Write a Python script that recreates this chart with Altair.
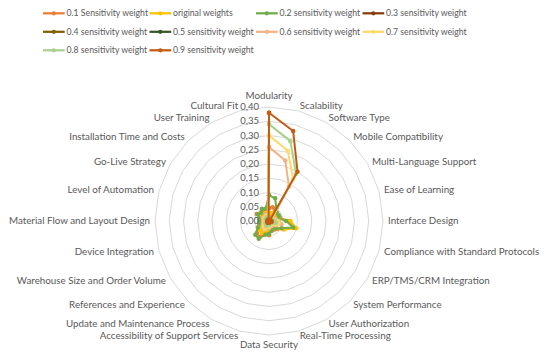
import altair as alt
import pandas as pd

categories = [
    "Modularity", "Scalability", "Software Type", "Mobile Compatibility",
    "Multi-Language Support", "Ease of Learning", "Interface Design",
    "Compliance with Standard Protocols", "ERP/TMS/CRM Integration",
    "System Performance", "User Authorization", "Real-Time Processing",
    "Data Security", "Accessibility of Support Services",
    "Update and Maintenance Process", "References and Experience",
    "Warehouse Size and Order Volume", "Device Integration",
    "Material Flow and Layout Design", "Level of Automation",
    "Go-Live Strategy", "Installation Time and Costs", "User Training",
    "Cultural Fit",
]

series_names = [
    "0.1 Sensitivity weight", "original weights", "0.2 sensitivity weight",
    "0.3 sensitivity weight", "0.4 sensitivity weight", "0.5 sensitivity weight",
    "0.6 sensitivity weight", "0.7 sensitivity weight", "0.8 sensitivity weight",
    "0.9 sensitivity weight",
]
series_colors = [
    "#ED7D31", "#FFC000", "#70AD47", "#843C0C", "#7F6000", "#375623",
    "#F4B183", "#FFD966", "#A9D18E", "#C55A11",
]

w_01 = [0.045, 0.050, 0.040, 0.035, 0.035, 0.040, 0.070, 0.092, 0.055, 0.040, 0.035, 0.035,
        0.050, 0.045, 0.065, 0.060, 0.040, 0.035, 0.030, 0.030, 0.050, 0.040, 0.045, 0.040]
w_orig = [0.030, 0.028, 0.030, 0.025, 0.030, 0.035, 0.075, 0.099, 0.060, 0.035, 0.030, 0.030,
          0.035, 0.035, 0.050, 0.045, 0.035, 0.030, 0.025, 0.025, 0.030, 0.030, 0.030, 0.030]
w_02 = [0.090, 0.083, 0.052, 0.040, 0.040, 0.035, 0.060, 0.088, 0.050, 0.035, 0.030, 0.035,
        0.045, 0.050, 0.072, 0.068, 0.045, 0.035, 0.034, 0.035, 0.045, 0.040, 0.050, 0.045]
w_03 = [0.012, 0.011, 0.010, 0.010, 0.010, 0.011, 0.012, 0.012, 0.011, 0.010, 0.010, 0.010,
        0.011, 0.011, 0.012, 0.012, 0.011, 0.010, 0.010, 0.010, 0.011, 0.010, 0.011, 0.010]
w_04 = [0.011, 0.010, 0.009, 0.009, 0.009, 0.010, 0.011, 0.011, 0.010, 0.009, 0.009, 0.009,
        0.010, 0.010, 0.011, 0.011, 0.010, 0.009, 0.009, 0.009, 0.010, 0.009, 0.010, 0.009]
w_05 = [0.010, 0.009, 0.008, 0.008, 0.008, 0.009, 0.010, 0.010, 0.009, 0.008, 0.008, 0.008,
        0.009, 0.009, 0.010, 0.010, 0.009, 0.008, 0.008, 0.008, 0.009, 0.008, 0.009, 0.008]
w_06 = [0.260, 0.220, 0.140, 0.020, 0.020, 0.025, 0.035, 0.045, 0.030, 0.020, 0.020, 0.020,
        0.025, 0.025, 0.035, 0.030, 0.025, 0.020, 0.020, 0.020, 0.025, 0.020, 0.025, 0.020]
w_07 = [0.300, 0.255, 0.170, 0.015, 0.015, 0.020, 0.030, 0.035, 0.025, 0.015, 0.015, 0.015,
        0.020, 0.020, 0.030, 0.025, 0.020, 0.015, 0.015, 0.015, 0.020, 0.015, 0.020, 0.015]
w_08 = [0.340, 0.290, 0.190, 0.010, 0.010, 0.015, 0.020, 0.025, 0.015, 0.010, 0.010, 0.010,
        0.015, 0.015, 0.020, 0.015, 0.015, 0.010, 0.010, 0.010, 0.015, 0.010, 0.015, 0.010]
w_09 = [0.380, 0.327, 0.200, 0.005, 0.005, 0.005, 0.008, 0.010, 0.006, 0.005, 0.004, 0.005,
        0.006, 0.006, 0.008, 0.007, 0.006, 0.005, 0.005, 0.005, 0.006, 0.005, 0.006, 0.005]

series_values = [w_01, w_orig, w_02, w_03, w_04, w_05, w_06, w_07, w_08, w_09]

tick_values = [0.00, 0.05, 0.10, 0.15, 0.20, 0.25, 0.30, 0.35, 0.40]
tick_labels = ["0,00", "0,05", "0,10", "0,15", "0,20", "0,25", "0,30", "0,35", "0,40"]

# ---- layout constants (pixels inside the plot area) ----
W, H = 534, 344
CX, CY = 261, 213             # radar centre
PX = 114 / 0.40               # pixels per data unit (0.40 ring radius = 114 px)
SIDE_R = 119 / PX             # radius of side category labels
TOP_R = 125 / PX              # radius of top label
BOT_R = 124 / PX              # radius of bottom label
N = len(categories)
FONT = "Lato"
TXT = "#595959"
LAB_FS = 9.8
LEG_X, LEG_Y, COL_W, ROW_H = 35, 5.3, 106.5, 18.5   # legend grid
SYM_W = 21.7

xscale = alt.Scale(domain=[-CX / PX, (W - CX) / PX], nice=False, zero=False)
yscale = alt.Scale(domain=[-(H - CY) / PX, CY / PX], nice=False, zero=False)
X = alt.X("x:Q", scale=xscale, axis=None)
Y = alt.Y("y:Q", scale=yscale, axis=None)
color_scale = alt.Scale(domain=series_names, range=series_colors)
color = alt.Color("series:N", scale=color_scale, legend=None)

# ---- long data ----
rows = []
for s, vals in zip(series_names, series_values):
    for i in range(N + 1):
        rows.append({"series": s, "idx": i, "cat": categories[i % N], "value": vals[i % N]})
df = pd.DataFrame(rows)

grid_rows = []
for r in tick_values[1:]:
    for i in range(N + 1):
        grid_rows.append({"ring": r, "idx": i, "value": r})
grid_df = pd.DataFrame(grid_rows)

tick_df = pd.DataFrame({"value": tick_values, "label": tick_labels})
cat_df = pd.DataFrame({"cat": categories, "idx": list(range(N))})
leg_df = pd.DataFrame({"series": series_names, "li": list(range(len(series_names)))})

polar = dict(
    x=f"datum.value * sin(datum.idx * 2 * PI / {N})",
    y=f"datum.value * cos(datum.idx * 2 * PI / {N})",
)

grid = alt.Chart(grid_df).transform_calculate(**polar).mark_line(
    stroke="#D9D9D9", strokeWidth=1
).encode(x=X, y=Y, detail="ring:N", order="idx:Q")

ticks = alt.Chart(tick_df).transform_calculate(x="0", y="datum.value").mark_text(
    align="right", baseline="middle", dx=-10, font=FONT, fontSize=9.5, color=TXT
).encode(x=X, y=Y, text="label:N")


def cat_labels(radius, filt, align, baseline):
    return alt.Chart(cat_df).transform_filter(filt).transform_calculate(
        x=f"{radius} * sin(datum.idx * 2 * PI / {N})",
        y=f"{radius} * cos(datum.idx * 2 * PI / {N})",
    ).mark_text(
        align=align, baseline=baseline, font=FONT, fontSize=LAB_FS, color=TXT
    ).encode(x=X, y=Y, text="cat:N")


lab_right = cat_labels(SIDE_R, f"datum.idx > 0 && datum.idx < {N // 2}", "left", "middle")
lab_left = cat_labels(SIDE_R, f"datum.idx > {N // 2}", "right", "middle")
lab_top = cat_labels(TOP_R, "datum.idx == 0", "center", "middle")
lab_bottom = cat_labels(BOT_R, f"datum.idx == {N // 2}", "center", "middle")

base = alt.Chart(df).transform_calculate(**polar)
series_layers = []
for s in series_names:
    b = base.transform_filter(alt.datum.series == s)
    series_layers.append(b.mark_line(strokeWidth=2).encode(x=X, y=Y, order="idx:Q", color=color))
    series_layers.append(b.mark_circle(size=20, opacity=1).encode(x=X, y=Y, color=color))

# ---- legend (Excel style: 4 columns, line + marker) ----
leg = alt.Chart(leg_df).transform_calculate(
    col="datum.li % 4", row="floor(datum.li / 4)"
).transform_calculate(
    x=f"({LEG_X} + datum.col * {COL_W} - {CX}) / {PX}",
    x2=f"({LEG_X} + datum.col * {COL_W} + {SYM_W} - {CX}) / {PX}",
    xm=f"({LEG_X} + datum.col * {COL_W} + {SYM_W / 2} - {CX}) / {PX}",
    xt=f"({LEG_X} + datum.col * {COL_W} + {SYM_W + 1.8} - {CX}) / {PX}",
    y=f"({CY} - ({LEG_Y} + datum.row * {ROW_H})) / {PX}",
)
leg_line = leg.mark_rule(strokeWidth=2.25).encode(x=X, x2="x2:Q", y=Y, color=color)
leg_dot = leg.mark_circle(size=18, opacity=1).encode(
    x=alt.X("xm:Q", scale=xscale, axis=None), y=Y, color=color
)
leg_text = leg.mark_text(
    align="left", baseline="middle", font=FONT, fontSize=8.7, color=TXT
).encode(x=alt.X("xt:Q", scale=xscale, axis=None), y=Y, text="series:N")

chart = alt.layer(
    grid, *series_layers, ticks, lab_right, lab_left, lab_top, lab_bottom,
    leg_line, leg_dot, leg_text,
).properties(
    width=W, height=H, padding=0, autosize=alt.AutoSizeParams(type="none"),
    background="white",
).configure_view(stroke=None)

chart.save("out.html", embed_options={"renderer": "svg", "actions": False})
